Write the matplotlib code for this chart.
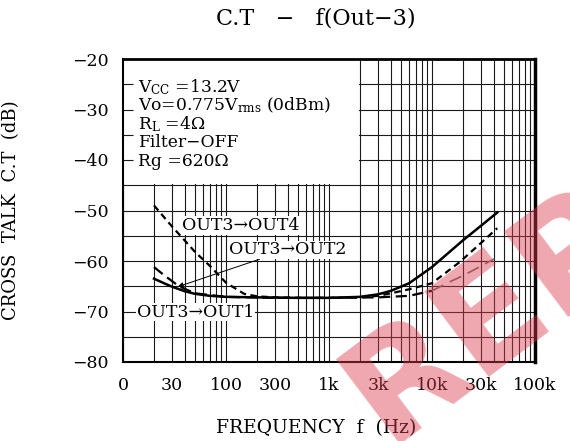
import numpy as np
import matplotlib
matplotlib.use('Agg')
import matplotlib.pyplot as plt
from matplotlib.patches import Rectangle

plt.rcParams['font.family'] = ['DejaVu Serif']
plt.rcParams['mathtext.fontset'] = 'dejavuserif'

# OUT3 -> OUT1 (solid)
freq_out1 = [20, 25, 30, 40, 50, 70, 100, 200, 500, 1000, 2000, 3000, 4000, 6000, 10000, 15000, 20000, 30000, 43000]
ct_out1 = [-63.5, -64.4, -65.1, -66.0, -66.5, -66.9, -67.1, -67.2, -67.3, -67.3, -67.1, -66.6, -65.9, -64.4, -61.2, -58.1, -55.9, -53.0, -50.4]

# OUT3 -> OUT4 (short dash)
freq_out4 = [20, 30, 40, 50, 70, 100, 150, 200, 300, 500, 1000, 2000, 3000, 4200, 6000, 10000, 18600, 30000, 43000]
ct_out4 = [-49.0, -53.2, -56.0, -58.2, -61.0, -64.3, -66.5, -67.0, -67.2, -67.3, -67.3, -67.2, -66.9, -66.3, -65.6, -64.4, -60.2, -56.4, -53.5]

# OUT3 -> OUT2 (long dash, grey at high end)
freq_out2 = [20, 25, 30, 35, 50, 100, 300, 1000, 3000, 6000, 10000, 15000, 20000, 30000, 40000]
ct_out2 = [-61.2, -62.8, -64.0, -65.0, -66.4, -67.1, -67.3, -67.3, -67.2, -66.9, -65.9, -64.1, -62.9, -61.0, -59.6]

xticks = [10, 30, 100, 300, 1000, 3000, 10000, 30000, 100000]
xticklabels = ['0', '30', '100', '300', '1k', '3k', '10k', '30k', '100k']
yticks = [-20, -30, -40, -50, -60, -70, -80]

conditions = ['V$_{\\rm CC}$ =13.2V',
              'Vo=0.775V$_{\\rm rms}$ (0dBm)',
              'R$_{\\rm L}$ =4Ω',
              'Filter−OFF',
              'Rg =620Ω']

fig = plt.figure(figsize=(5.7, 4.41), dpi=100)
ax = fig.add_axes([123/570, 1-362/441, 412/570, 303/441])

ax.set_xscale('log')
ax.set_xlim(10, 100000)
ax.set_ylim(-80, -20)
ax.set_axisbelow(True)

ax.set_yticks(yticks)
ax.set_yticks(np.arange(-75, -20, 10), minor=True)
ax.set_yticklabels(['−%d' % abs(v) for v in yticks], fontsize=12.5)
ax.set_xticks(xticks)
ax.set_xticklabels(xticklabels, fontsize=12.5)
ax.xaxis.set_minor_locator(matplotlib.ticker.LogLocator(base=10, subs=np.arange(2, 10)))
ax.xaxis.set_minor_formatter(matplotlib.ticker.NullFormatter())
ax.tick_params(which='both', length=0)
ax.tick_params(axis='x', pad=11)
ax.tick_params(axis='y', pad=10)
ax.grid(which='both', color='#1a1a1a', lw=0.8)

for side, lw in [('left', 1.5), ('bottom', 1.5), ('top', 2.0), ('right', 2.5)]:
    ax.spines[side].set_linewidth(lw)

# white box for conditions
ax.add_patch(Rectangle((10, -44.8), 1950 - 10, 24.8, facecolor='white', edgecolor='none', zorder=1))
ax.hlines([-25, -30, -35, -40], 10, 12.5, color='#1a1a1a', lw=0.8, zorder=1.5)

for i, line in enumerate(conditions):
    ax.text(14.0, -25.6 - i * 3.65, line, fontsize=12.3, va='center', ha='left', zorder=3)

ax.plot(freq_out1, ct_out1, color='black', lw=1.8, zorder=2)
ax.plot(freq_out4, ct_out4, color='black', lw=1.6, ls=(0, (3, 2)), zorder=2)
f2 = np.array(freq_out2)
c2 = np.array(ct_out2)
lo = f2 <= 10000
hi = f2 >= 10000
ax.plot(f2[lo], c2[lo], color='black', lw=1.6, ls=(0, (5, 2.5)), zorder=2)
ax.plot(f2[hi], c2[hi], color='#777777', lw=1.3, ls=(0, (7, 4)), zorder=2)

box = dict(facecolor='white', edgecolor='none', pad=0.6)
ax.text(37, -52.9, 'OUT3→OUT4', fontsize=12.5, va='center', ha='left', bbox=box, zorder=3)
ax.annotate('OUT3→OUT2', xy=(34, -65.1), xytext=(106, -57.8),
            fontsize=12.5, va='center', ha='left', bbox=box, zorder=3,
            arrowprops=dict(arrowstyle='-|>', color='black', lw=0.7, mutation_scale=8,
                            shrinkA=0, shrinkB=0))
ax.text(13.6, -70.1, 'OUT3→OUT1', fontsize=12.5, va='center', ha='left', bbox=box, zorder=3)

ax.set_ylabel('CROSS  TALK  C.T  (dB)', fontsize=13)
ax.yaxis.set_label_coords(-(123 - 20) / 412, 0.5)
fig.text(316/570, 1-428/441, 'FREQUENCY  f  (Hz)', fontsize=13.5, ha='center', va='center')
fig.text(316/570, 1-18/441, 'C.T   −   f(Out−3)', fontsize=16, ha='center', va='center')

# watermark
fig.text(0.56, -0.06, 'REP', fontsize=105, fontweight='bold', family='DejaVu Sans',
         color='#dc3c4e', alpha=0.45, rotation=37, ha='left', va='bottom', zorder=10)

plt.savefig('out.png', dpi=100)
